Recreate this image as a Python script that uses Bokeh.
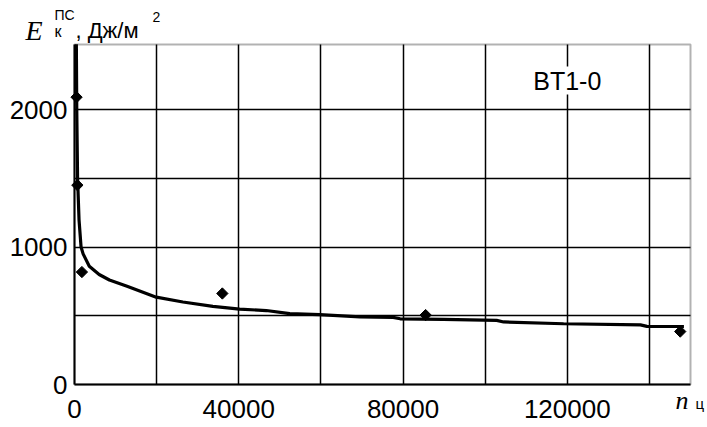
import math
from bokeh.plotting import figure
from bokeh.models import FixedTicker, Range1d, Label, LinearAxis, Grid, BoxAnnotation
from bokeh.embed import file_html
from bokeh.resources import INLINE

# ---- data ----
points_x = [500, 700, 1800, 36000, 85500, 147500]
points_y = [2090, 1450, 818, 662, 505, 385]

curve_x = [450, 550, 750, 1100, 1600, 2100, 3600, 6000, 8500, 12800, 19900, 26400,
           33700, 40200, 46700, 52400, 59700, 69500, 77600, 79300, 89800, 102800,
           104500, 119100, 137800, 139400, 148400]
curve_y = [2475, 2000, 1500, 1200, 1000, 950, 860, 800, 760, 715, 635, 600,
           568, 548, 538, 515, 508, 492, 488, 478, 473, 466,
           455, 442, 434, 423, 422]

x_ticks = [0, 40000, 80000, 120000]
x_tick_labels = ["0", "40000", "80000", "120000"]
x_grid = [20000, 40000, 60000, 80000, 100000, 120000, 140000]
y_ticks = [0, 1000, 2000]
y_tick_labels = ["0", "1000", "2000"]
y_grid = [500, 1000, 1500, 2000]

series_label = "BT1-0"

FONT = "Liberation Sans"
SERIF = "Liberation Serif"

# plotting box (data) and its place on the 707x427 canvas (pixels)
X0, X1 = 0, 150000
Y0, Y1 = 0, 2473
W, H = 707, 427
BOX_L, BOX_R, BOX_T, BOX_B = 74, 690, 44, 384

xpp = (X1 - X0) / (BOX_R - BOX_L)
ypp = (Y1 - Y0) / (BOX_B - BOX_T)
XS, XE = X0 - BOX_L * xpp, X1 + (W - BOX_R) * xpp
YS, YE = Y0 - (H - BOX_B) * ypp, Y1 + BOX_T * ypp

p = figure(width=W, height=H, min_border=0, x_range=Range1d(XS, XE), y_range=Range1d(YS, YE),
           x_axis_location=None, y_axis_location=None,
           output_backend="svg", toolbar_location=None)
p.background_fill_color = "white"
p.border_fill_color = "white"
p.outline_line_color = None
p.center = [r for r in p.center if not isinstance(r, Grid)]

# grid
has_cross = "cross_bounds" in Grid.properties()
for dim, ticks in ((0, x_grid), (1, y_grid)):
    g = Grid(dimension=dim, ticker=FixedTicker(ticks=ticks),
             grid_line_color="black", grid_line_width=1.5, level="underlay")
    if has_cross:
        g.cross_bounds = (Y0, Y1) if dim == 0 else (X0, X1)
    p.add_layout(g)

# white masks outside the plotting box (only if grid lines cannot be bounded)
if not has_cross:
    PADX, PADY = 0.05 * (XE - XS), 0.05 * (YE - YS)
    masks = [
        dict(left=XS - PADX, right=X0, bottom=YS - PADY, top=YE + PADY),
        dict(left=X1, right=XE + PADX, bottom=YS - PADY, top=YE + PADY),
        dict(left=XS - PADX, right=XE + PADX, bottom=Y1, top=YE + PADY),
        dict(left=XS - PADX, right=XE + PADX, bottom=YS - PADY, top=Y0),
    ]
    for kw in masks:
        p.add_layout(BoxAnnotation(fill_color="white", fill_alpha=1.0, line_color=None,
                                   level="underlay", **kw))

# plotting box border
p.add_layout(BoxAnnotation(left=X0, right=X1, bottom=Y0, top=Y1, fill_alpha=0.0,
                           line_color="black", line_width=2, level="underlay"))

# axes
xaxis = LinearAxis(fixed_location=Y0, bounds=(X0, X1), ticker=FixedTicker(ticks=x_ticks),
                   major_label_overrides={t: s for t, s in zip(x_ticks, x_tick_labels)})
yaxis = LinearAxis(fixed_location=X0, bounds=(Y0, Y1), ticker=FixedTicker(ticks=y_ticks),
                   major_label_overrides={t: s for t, s in zip(y_ticks, y_tick_labels)})
for ax in (xaxis, yaxis):
    ax.axis_line_color = "black"
    ax.axis_line_width = 2
    ax.major_tick_out = 0
    ax.major_tick_in = 0
    ax.minor_tick_out = 0
    ax.minor_tick_in = 0
    ax.major_label_text_font = FONT
    ax.major_label_text_font_size = "26px"
    ax.major_label_text_color = "black"
xaxis.major_label_standoff = 15
yaxis.major_label_standoff = 7
p.add_layout(xaxis, "below")
p.add_layout(yaxis, "left")

# curve and points
p.line(curve_x, curve_y, line_color="black", line_width=3.2)
p.scatter(points_x, points_y, marker="square", angle=math.pi / 4, size=8, color="black")

# series label with white background
p.add_layout(Label(x=120000, y=2211, text=series_label, text_align="center",
                   text_baseline="middle", text_font=FONT, text_font_size="25px",
                   text_color="black", background_fill_color="white",
                   background_fill_alpha=1.0))


# axis titles (screen positions: x from left, y from bottom of canvas)
def slabel(px, py, text, font, size, style="normal"):
    p.add_layout(Label(x=px, y=H - py, x_units="screen", y_units="screen", text=text,
                       text_font=font, text_font_size=size, text_font_style=style,
                       text_baseline="alphabetic", text_align="left", text_color="black"))


slabel(25, 30, "E", SERIF, "28px", "italic")
slabel(54, 31, "к", FONT, "16px")
slabel(54, 14, "ПС", FONT, "14px")
slabel(75, 30, ", Дж/м", FONT, "22px")
slabel(152, 16, "2", FONT, "14px")

slabel(675, 400, "n", SERIF, "26px", "italic")
slabel(695, 403, "ц", FONT, "15px")

open("out.html", "w").write(file_html(p, INLINE))
